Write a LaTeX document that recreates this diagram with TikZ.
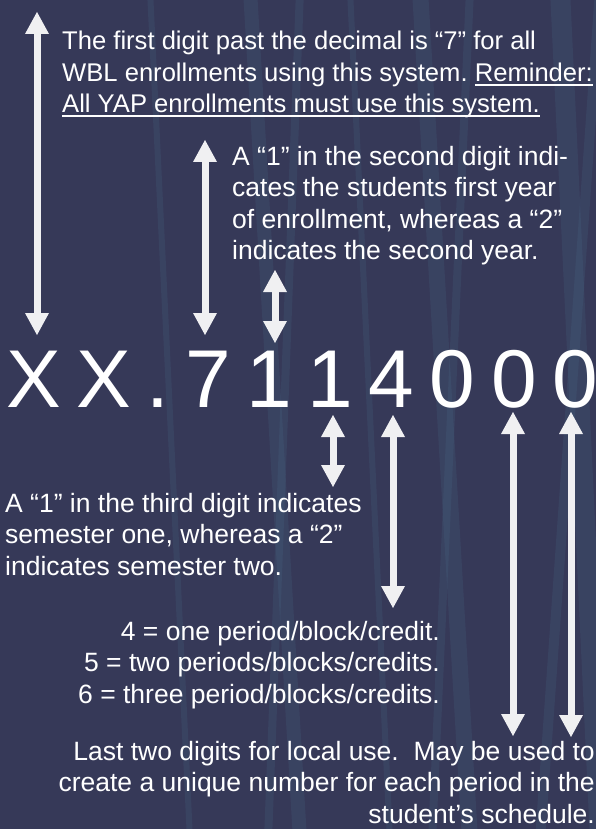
\documentclass[tikz,border=0pt]{standalone}
\usepackage{fontspec}
\setmainfont{Liberation Sans}
\usetikzlibrary{arrows.meta,positioning}
\definecolor{wblNavy}{RGB}{54,57,88}
\definecolor{wblTeal}{RGB}{86,140,168}
\definecolor{wblArrow}{RGB}{240,240,242}
\newcommand{\remline}[1]{\setbox0\hbox{#1}\rlap{\rule[-4.5pt]{\wd0}{1.8pt}}\box0}
\frenchspacing

\begin{document}
\begin{tikzpicture}[
  x=1pt, y=-1pt,
  note/.style={
    inner sep=0pt,
    align=left,
    text=white,
    font=\fontsize{26.5}{31.5}\selectfont
  },
  digit/.style={
    inner sep=0pt,
    text=white,
    font=\fontsize{82}{82}\selectfont
  },
  twoway/.style={
    {Triangle[width=24pt,length=22pt,line width=0pt]}-{Triangle[width=24pt,length=22pt,line width=0pt]},
    line width=7pt,
    wblArrow
  },
  streak/.style={wblTeal, opacity=0.12}
]
  \fill[wblNavy] (0,0) rectangle (596,829);
  \useasboundingbox (0,0) rectangle (596,829);
  \foreach \xa/\xb/\w in {250/300/14, 300/268/8, 420/470/16, 470/432/8, 560/600/20, 600/540/10, 350/390/6, 150/190/6}
    \draw[streak, line width=\w pt] (\xa,-10) -- (\xb,840);

  % the number itself
  \node[digit, anchor=base west] (d1) at (6,407) {X};
  \foreach \ch [count=\i from 2, remember=\i as \j (initially 1)] in {X,.,7,1,1,4,0,0,0}
    \node[digit, right=15.2pt of d\j.base east, anchor=base west] (d\i) {\ch};

  \node[note, font=\fontsize{25.6}{31.5}\selectfont, anchor=north west] (yapNote) at (62,31)
    {The first digit past the decimal is “7” for all\\WBL enrollments using this system. \remline{Reminder:}\\\remline{All YAP enrollments must use this system.}};
  \node[note, anchor=north west] (yearNote) at (232,146)
    {A “1” in the second digit indi-\\cates the students first year\\of enrollment, whereas a “2”\\indicates the second year.};
  \node[note, anchor=north west] (semesterNote) at (5,493)
    {A “1” in the third digit indicates\\semester one, whereas a “2”\\indicates semester two.};
  \node[note, anchor=north east, align=right] (creditNote) at (440,621)
    {4 = one period/block/credit.\\5 = two periods/blocks/credits.\\6 = three period/blocks/credits.};
  \node[note, anchor=north east, align=right] (localNote) at (595,741)
    {Last two digits for local use.\ \ May be used to\\create a unique number for each period in the\\student’s schedule.};

  % arrows
  \foreach \x/\ya/\yb [count=\k] in {37/12/335, 205/140/335, 275/270/343, 333/415/487, 393/415/608, 513/412/736, 571/412/737} {
    \coordinate (tip\k) at (\x,\ya);
    \coordinate (end\k) at (\x,\yb);
    \draw[twoway] (tip\k) -- (end\k);
  }
\end{tikzpicture}
\end{document}
